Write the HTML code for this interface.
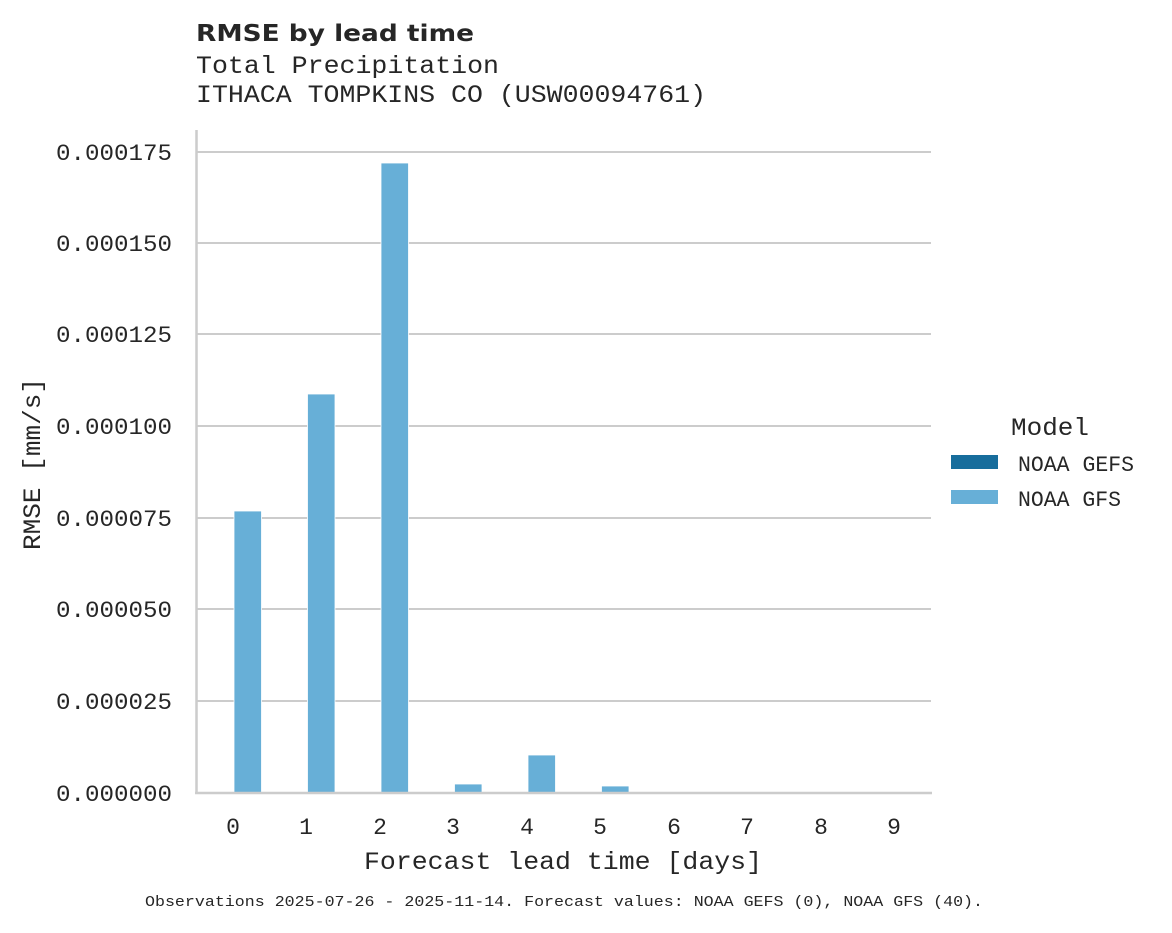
<!DOCTYPE html>
<html><head><style>
body{margin:0;background:#fff;}
svg text{font-family:"Liberation Mono",monospace;fill:#262626;}
</style></head><body>
<svg width="1172" height="928" xmlns="http://www.w3.org/2000/svg">
<rect width="1172" height="928" fill="#fff"/>
<text x="196" y="41" textLength="278" lengthAdjust="spacingAndGlyphs" style="font-family:'DejaVu Sans',sans-serif;font-weight:bold;font-size:23px">RMSE by lead time</text>
<text x="196" y="73" font-size="25" textLength="303" lengthAdjust="spacingAndGlyphs">Total Precipitation</text>
<text x="196" y="102" font-size="25" textLength="510" lengthAdjust="spacingAndGlyphs">ITHACA TOMPKINS CO (USW00094761)</text>
<g stroke="#cccccc" stroke-width="2">
<line x1="197" y1="152" x2="931" y2="152"/>
<line x1="197" y1="243" x2="931" y2="243"/>
<line x1="197" y1="334" x2="931" y2="334"/>
<line x1="197" y1="426" x2="931" y2="426"/>
<line x1="197" y1="518" x2="931" y2="518"/>
<line x1="197" y1="609" x2="931" y2="609"/>
<line x1="197" y1="701" x2="931" y2="701"/>
</g>
<g fill="#67afd7" stroke="#fff" stroke-width="0.8">
<rect x="234" y="511" width="27.5" height="282"/>
<rect x="307.5" y="394" width="27.5" height="399"/>
<rect x="381" y="163" width="27.5" height="630"/>
<rect x="454.5" y="784" width="27.5" height="9"/>
<rect x="528" y="755" width="27.5" height="38"/>
<rect x="601.5" y="786" width="27.5" height="7"/>
</g>
<line x1="196.5" y1="130" x2="196.5" y2="794" stroke="#cccccc" stroke-width="2.5"/>
<line x1="195" y1="793" x2="932" y2="793" stroke="#cccccc" stroke-width="2.5"/>
<g font-size="23">
<text x="56" y="160" textLength="116" lengthAdjust="spacingAndGlyphs">0.000175</text>
<text x="56" y="251" textLength="116" lengthAdjust="spacingAndGlyphs">0.000150</text>
<text x="56" y="342" textLength="116" lengthAdjust="spacingAndGlyphs">0.000125</text>
<text x="56" y="434" textLength="116" lengthAdjust="spacingAndGlyphs">0.000100</text>
<text x="56" y="526" textLength="116" lengthAdjust="spacingAndGlyphs">0.000075</text>
<text x="56" y="617" textLength="116" lengthAdjust="spacingAndGlyphs">0.000050</text>
<text x="56" y="709" textLength="116" lengthAdjust="spacingAndGlyphs">0.000025</text>
<text x="56" y="801" textLength="116" lengthAdjust="spacingAndGlyphs">0.000000</text>
</g>
<g font-size="23" text-anchor="middle">
<text x="233" y="834">0</text><text x="306" y="834">1</text><text x="380" y="834">2</text>
<text x="453" y="834">3</text><text x="527" y="834">4</text><text x="600" y="834">5</text>
<text x="674" y="834">6</text><text x="747" y="834">7</text><text x="821" y="834">8</text>
<text x="894" y="834">9</text>
</g>
<text x="364" y="869" font-size="25" textLength="398" lengthAdjust="spacingAndGlyphs">Forecast lead time [days]</text>
<text transform="translate(40,550) rotate(-90)" font-size="25" textLength="172" lengthAdjust="spacingAndGlyphs">RMSE [mm/s]</text>
<text x="1011" y="435" font-size="25" textLength="78" lengthAdjust="spacingAndGlyphs">Model</text>
<rect x="951" y="455" width="47" height="14" fill="#176d9c"/>
<text x="1018" y="471" font-size="22" textLength="116" lengthAdjust="spacingAndGlyphs">NOAA GEFS</text>
<rect x="951" y="490" width="47" height="14" fill="#67afd7"/>
<text x="1018" y="506" font-size="22" textLength="103" lengthAdjust="spacingAndGlyphs">NOAA GFS</text>
<text x="145" y="906" font-size="15" textLength="838" lengthAdjust="spacingAndGlyphs">Observations 2025-07-26 - 2025-11-14. Forecast values: NOAA GEFS (0), NOAA GFS (40).</text>
</svg>
</body></html>
